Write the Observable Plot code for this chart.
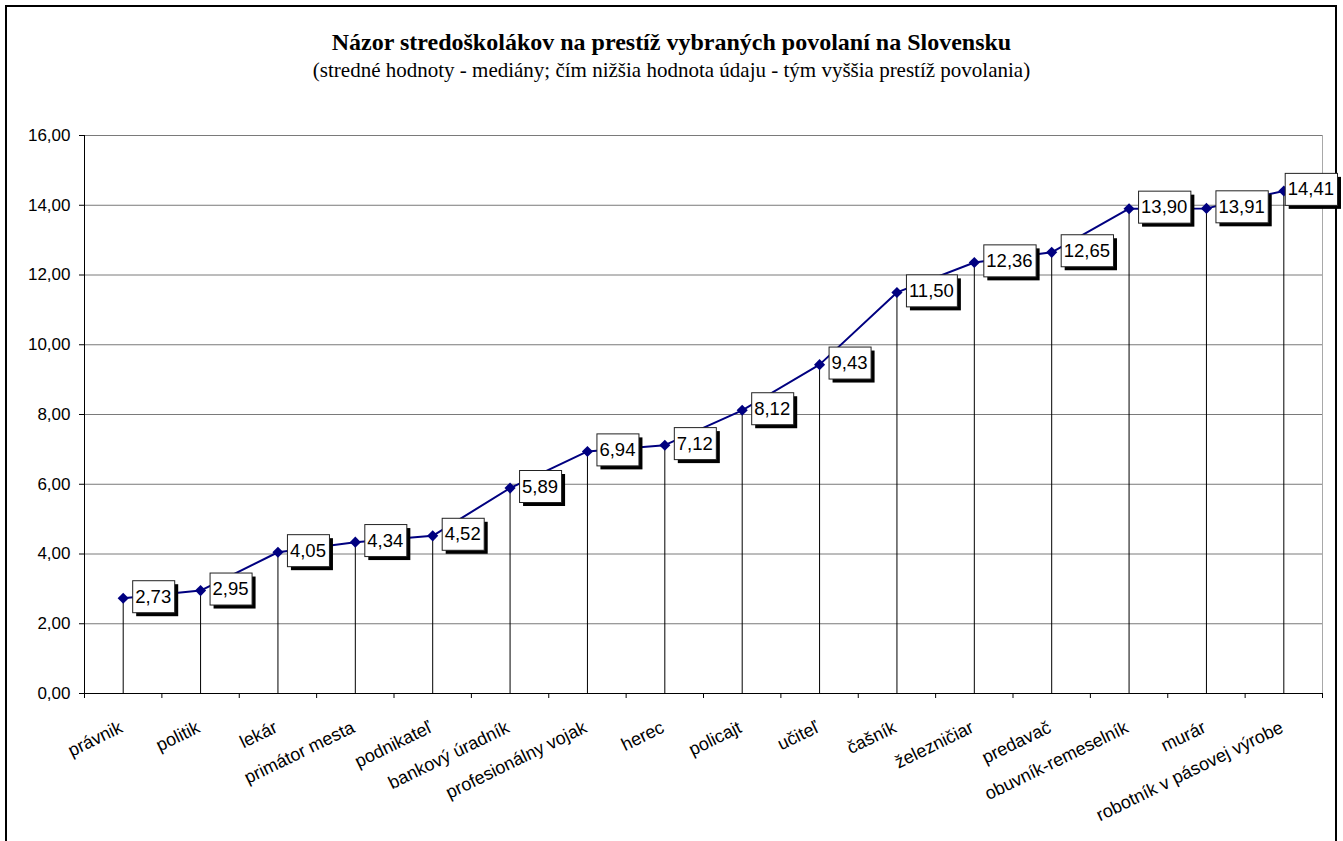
<!DOCTYPE html>
<html><head><meta charset="utf-8">
<script src="https://cdn.jsdelivr.net/npm/d3@7"></script>
<script src="https://cdn.jsdelivr.net/npm/@observablehq/plot@0.6"></script>
<style>
body{margin:0;background:#fff;overflow:hidden;}
#frame{position:absolute;left:5px;top:5px;width:1332px;height:900px;border:2px solid #000;box-sizing:border-box;}
.t{position:absolute;left:0;width:1343px;text-align:center;white-space:nowrap;font-family:"Liberation Serif","DejaVu Serif","Times New Roman",serif;color:#000;}
#title{top:30px;font-weight:bold;font-size:24px;line-height:24px;}
#sub{top:59.5px;font-size:21px;line-height:21px;}
#chart{position:absolute;left:0;top:100px;}
</style>
</head><body>
<div id="frame"></div>
<div id="title" class="t">Názor stredoškolákov na prestíž vybraných povolaní na Slovensku</div>
<div id="sub" class="t">(stredné hodnoty - mediány; čím nižšia hodnota údaju - tým vyššia prestíž povolania)</div>
<div id="chart"></div>
<script>
const categories = ["právnik","politik","lekár","primátor mesta","podnikateľ","bankový úradník","profesionálny vojak","herec","policajt","učiteľ","čašník","železničiar","predavač","obuvník-remeselník","murár","robotník v pásovej výrobe"];
const values = [2.73,2.95,4.05,4.34,4.52,5.89,6.94,7.12,8.12,9.43,11.50,12.36,12.65,13.90,13.91,14.41];
const yTicks = [0,2,4,6,8,10,12,14,16];

const fmt = v => v.toFixed(2).replace(".", ",");
const idx = categories.map((_, i) => i);
const boundaries = d3.range(0, categories.length + 1).map(i => i - 0.5);
const F = "'Liberation Sans', Arial, sans-serif";

const chart = Plot.plot({
  width: 1343,
  height: 741,
  marginLeft: 84,
  marginRight: 21,
  marginTop: 35,
  marginBottom: 148,
  style: {background: "transparent", fontFamily: F, color: "#000"},
  x: {type: "linear", domain: [-0.5, categories.length - 0.5]},
  y: {domain: [0, 16]},
  marks: [
    Plot.gridY(yTicks, {stroke: "#7a7a7a", strokeOpacity: 1}),
    Plot.ruleX([categories.length - 0.5], {stroke: "#a8a8a8"}),
    Plot.ruleX(idx, {x: i => i, y1: 0, y2: i => values[i], stroke: "#000"}),
    Plot.ruleY([0], {stroke: "#000"}),
    Plot.ruleX([-0.5], {stroke: "#000"}),
    Plot.axisY(yTicks, {tickFormat: fmt, tickSize: 5, tickPadding: 9, fontSize: 17, label: null}),
    Plot.axisX(boundaries, {tickFormat: () => "", tickSize: 5, label: null}),
    Plot.text(idx, {x: i => i, text: i => categories[i], frameAnchor: "bottom", rotate: -26, textAnchor: "end", lineAnchor: "top", dx: -5, dy: 26.5, fontSize: 18}),
    Plot.line(idx, {x: i => i, y: i => values[i], stroke: "#000080", strokeWidth: 2}),
    Plot.dot(idx, {x: i => i, y: i => values[i], symbol: "diamond2", r: 5, fill: "#000080", stroke: "none"}),
    Plot.text(idx, {x: i => i, y: i => values[i], text: i => fmt(values[i]), textAnchor: "start", dx: 12, dy: -1.5, fontSize: 18.5})
  ]
});
document.getElementById("chart").appendChild(chart);

// data label boxes with shadow (Excel style)
const groups = chart.querySelectorAll('g[aria-label="text"]');
const lblGroup = groups[groups.length - 1];
const NS = "http://www.w3.org/2000/svg";
const maxRight = 1337;
const pad = 3;
lblGroup.querySelectorAll("text").forEach(t => {
  const bb = t.getBBox();
  const cr = t.getBoundingClientRect();
  let shift = 0;
  if (cr.right + pad > maxRight) shift = maxRight - (cr.right + pad);
  const w = bb.width + 2 * pad;
  const h = 32;
  const left = bb.x - pad + shift;
  const cy = bb.y + bb.height / 2;
  const top = cy - h / 2;
  const sh = document.createElementNS(NS, "rect");
  sh.setAttribute("x", left + 4); sh.setAttribute("y", top + 4);
  sh.setAttribute("width", w); sh.setAttribute("height", h);
  sh.setAttribute("fill", "#000");
  const bx = document.createElementNS(NS, "rect");
  bx.setAttribute("x", left + 0.5); bx.setAttribute("y", top + 0.5);
  bx.setAttribute("width", w); bx.setAttribute("height", h);
  bx.setAttribute("fill", "#fff"); bx.setAttribute("stroke", "#222");
  const tr = t.getAttribute("transform");
  if (tr) { sh.setAttribute("transform", tr); bx.setAttribute("transform", tr); }
  lblGroup.insertBefore(sh, t);
  lblGroup.insertBefore(bx, t);
  if (shift) {
    if (t.hasAttribute("x")) t.setAttribute("x", +t.getAttribute("x") + shift);
    else t.setAttribute("transform", (tr || "") + ` translate(${shift},0)`);
  }
});
</script>
</body></html>
